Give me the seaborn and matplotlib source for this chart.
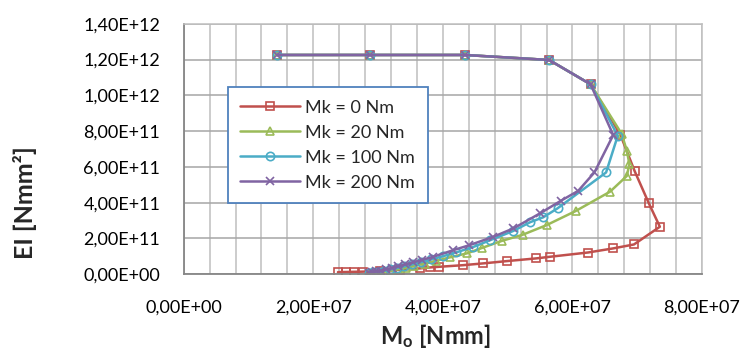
import matplotlib
matplotlib.use("Agg")
import seaborn as sns
import matplotlib.pyplot as plt
from matplotlib.ticker import MultipleLocator, FuncFormatter

# values (M_o in Nmm, EI in Nmm^2)
mk0_x = [1.44e7, 2.87e7, 4.34e7, 5.64e7, 6.28e7, 6.74e7, 6.96e7, 7.18e7, 7.35e7, 6.95e7,
         6.63e7, 6.24e7, 5.65e7, 5.44e7, 4.99e7, 4.62e7, 4.31e7, 3.94e7, 3.80e7, 3.64e7,
         3.34e7, 3.03e7, 2.77e7, 2.63e7, 2.51e7, 2.38e7]
mk0_y = [1.226e12, 1.226e12, 1.226e12, 1.198e12, 1.062e12, 7.8e11, 5.77e11, 3.96e11, 2.65e11, 1.66e11,
         1.44e11, 1.21e11, 9.7e10, 8.8e10, 7.3e10, 6.0e10, 5.0e10, 4.1e10, 3.75e10, 3.2e10,
         2.4e10, 1.8e10, 1.4e10, 1.3e10, 1.2e10, 1.1e10]

mk20_x = [1.44e7, 2.87e7, 4.34e7, 5.64e7, 6.28e7, 6.76e7, 6.84e7, 6.88e7, 6.84e7, 6.58e7,
          6.05e7, 5.60e7, 5.23e7, 4.91e7, 4.60e7, 4.37e7, 4.11e7, 3.90e7, 3.72e7, 3.56e7,
          3.43e7, 3.31e7, 3.20e7, 3.09e7, 2.99e7, 2.90e7]
mk20_y = [1.226e12, 1.226e12, 1.226e12, 1.198e12, 1.062e12, 7.85e11, 6.9e11, 6.16e11, 5.49e11, 4.61e11,
          3.53e11, 2.74e11, 2.2e11, 1.86e11, 1.46e11, 1.16e11, 9.4e10, 7.5e10, 5.9e10, 4.6e10,
          3.6e10, 2.7e10, 2.0e10, 1.4e10, 9e9, 6e9]

mk100_x = [1.44e7, 2.87e7, 4.34e7, 5.64e7, 6.28e7, 6.70e7, 6.52e7, 5.77e7, 5.55e7, 5.35e7,
           5.09e7, 4.73e7, 4.47e7, 4.21e7, 4.00e7, 3.82e7, 3.66e7, 3.52e7, 3.40e7, 3.29e7,
           3.19e7, 3.09e7, 3.00e7, 2.92e7, 2.86e7]
mk100_y = [1.226e12, 1.226e12, 1.226e12, 1.198e12, 1.062e12, 7.74e11, 5.69e11, 3.68e11, 3.18e11, 2.91e11,
           2.42e11, 1.9e11, 1.52e11, 1.22e11, 1.0e11, 8.2e10, 6.7e10, 5.4e10, 4.3e10, 3.4e10,
           2.6e10, 1.9e10, 1.4e10, 1.0e10, 7e9]

mk200_x = [1.44e7, 2.87e7, 4.34e7, 5.64e7, 6.28e7, 6.63e7, 6.34e7, 6.09e7, 5.82e7, 5.50e7,
           5.09e7, 4.78e7, 4.41e7, 4.16e7, 3.85e7, 3.68e7, 3.54e7, 3.42e7, 3.31e7, 3.21e7,
           3.12e7, 3.04e7, 2.97e7, 2.91e7, 2.86e7]
mk200_y = [1.226e12, 1.226e12, 1.226e12, 1.198e12, 1.062e12, 7.78e11, 5.69e11, 4.66e11, 4.1e11, 3.4e11,
           2.56e11, 2.09e11, 1.62e11, 1.34e11, 9.7e10, 8.0e10, 6.6e10, 5.4e10, 4.4e10, 3.5e10,
           2.7e10, 2.0e10, 1.5e10, 1.1e10, 8e9]

labels = ["Mk = 0 Nm", "Mk = 20 Nm", "Mk = 100 Nm", "Mk = 200 Nm"]
colors = ["#C0504D", "#9BBB59", "#4BACC6", "#8064A2"]
markers = ["s", "^", "o", "x"]

sns.set_theme(style="white")
plt.rcParams["font.family"] = ["Lato", "DejaVu Sans"]
plt.rcParams["mathtext.fontset"] = "custom"
plt.rcParams["mathtext.bf"] = "Lato:bold"
plt.rcParams["mathtext.rm"] = "Lato"

fig = plt.figure(figsize=(7.44, 3.51), dpi=100)
ax = fig.add_axes([0.247, 0.219, 0.6965, 0.713])

series = [(mk0_x, mk0_y), (mk20_x, mk20_y), (mk100_x, mk100_y), (mk200_x, mk200_y)]
for (xs, ys), lab, col, mk in zip(series, labels, colors, markers):
    sns.lineplot(x=xs, y=ys, sort=False, estimator=None, ax=ax, label=lab,
                 color=col, marker=mk, markersize=6, markerfacecolor="none",
                 markeredgecolor=col, markeredgewidth=1.2, linewidth=1.8)

ax.set_xlim(0, 8e7)
ax.set_ylim(0, 1.4e12)
ax.xaxis.set_major_locator(MultipleLocator(2e7))
ax.xaxis.set_minor_locator(MultipleLocator(4e6))
ax.yaxis.set_major_locator(MultipleLocator(2e11))

fmt = FuncFormatter(lambda v, p: f"{v:.2E}".replace(".", ","))
ax.xaxis.set_major_formatter(fmt)
ax.yaxis.set_major_formatter(fmt)

ax.grid(False)
ax.grid(True, which="both", axis="x", color="#BFBFBF", linewidth=1.1)
ax.grid(True, which="major", axis="y", color="#A6A6A6", linewidth=1.1)
ax.set_axisbelow(True)

for s in ["left", "bottom"]:
    ax.spines[s].set_color("#868686")
    ax.spines[s].set_linewidth(1.3)
for s in ["top", "right"]:
    ax.spines[s].set_color("#BFBFBF")
    ax.spines[s].set_linewidth(1.1)

ax.tick_params(axis="both", which="both", length=0, labelsize=13, colors="black")
ax.tick_params(axis="y", pad=17)
ax.tick_params(axis="x", pad=18)

ax.set_xlabel(r"$\mathbf{M_o}$ [Nmm]", fontsize=17, fontweight="bold")
ax.set_ylabel("EI [Nmm²]", fontsize=18, fontweight="bold")
ax.xaxis.set_label_coords(0.485, -0.19)
ax.yaxis.set_label_coords(-0.284, 0.284)

leg = ax.legend(loc="upper left", bbox_to_anchor=(0.085, 0.748), fontsize=13,
                frameon=True, fancybox=False, framealpha=1, borderaxespad=0,
                borderpad=0.7, labelspacing=0.5, handlelength=3.3, handletextpad=0.3)
leg.get_frame().set_edgecolor("#4F81BD")
leg.get_frame().set_linewidth(1.3)

fig.savefig("out.png", dpi=100)
